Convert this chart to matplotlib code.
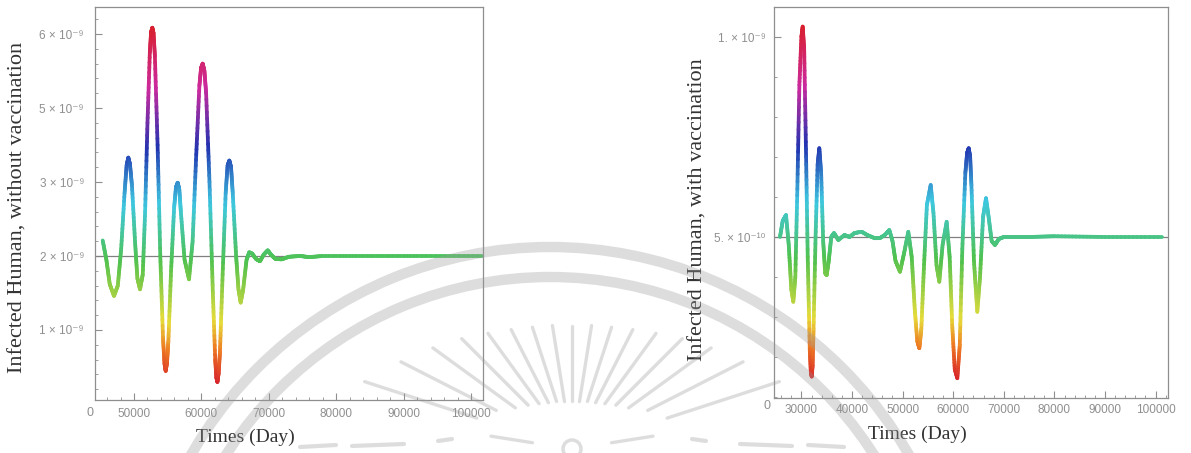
import numpy as np
import matplotlib.pyplot as plt
from matplotlib.collections import LineCollection
from matplotlib.colors import LinearSegmentedColormap
from matplotlib.patches import Arc, Circle
from matplotlib.ticker import FixedLocator, MultipleLocator

# ---------------------------------------------------------------
# data (infected values in units of 1e-9)
# ---------------------------------------------------------------
days_novac = [45356, 45900, 46400, 47033, 47600, 48100, 48600, 48900, 49154, 49400,
              49700, 50150, 50500, 50890, 51300, 51650, 52000, 52350, 52530, 52715,
              52900, 53100, 53500, 53900, 54300, 54520, 54703, 54900, 55100, 55500,
              55950, 56230, 56484, 56720, 56950, 57500, 58160, 58700, 59200, 59700,
              59950, 60193, 60450, 60700, 61200, 61700, 62050, 62220, 62374, 62560,
              62750, 63150, 63600, 63880, 64144, 64400, 64650, 65150, 65500, 65826,
              66200, 66700, 67100, 67552, 68100, 68694, 69250, 69837, 70400, 71000,
              71914, 73000, 74629, 76000, 78000, 85000, 92000, 101700]
infected_novac = [2.21, 1.95, 1.62, 1.46, 1.60, 2.10, 2.85, 3.22, 3.33, 3.24,
                  2.95, 2.20, 1.70, 1.55, 1.75, 2.60, 3.80, 4.75, 5.02, 5.085,
                  5.01, 4.70, 3.50, 2.00, 0.90, 0.55, 0.446, 0.56, 0.85, 1.80,
                  2.65, 2.93, 2.99, 2.90, 2.60, 1.95, 1.685, 2.20, 3.30, 4.30,
                  4.54, 4.60, 4.50, 4.20, 3.00, 1.50, 0.60, 0.36, 0.297, 0.42,
                  0.70, 1.75, 2.85, 3.22, 3.29, 3.20, 2.85, 2.00, 1.55, 1.37,
                  1.55, 1.95, 2.05, 2.03, 1.96, 1.93, 2.02, 2.077, 2.01, 1.96,
                  1.955, 1.99, 2.00, 1.985, 2.00, 2.00, 2.00, 2.00]

days_vac = [25771, 26300, 26957, 27500, 28000, 28400, 28800, 29200, 29600, 30000,
            30257, 30550, 30900, 31250, 31650, 31850, 32036, 32220, 32400, 32800,
            33200, 33537, 33900, 34300, 34700, 35000, 35400, 35900, 36443, 37300,
            38500, 39500, 40500, 41917, 43000, 44500, 45534, 46500, 47371, 48000,
            48600, 49486, 50300, 51126, 51800, 52400, 52900, 53304, 53700, 54200,
            54800, 55553, 56100, 56700, 57256, 57900, 58709, 59300, 59800, 60300,
            60812, 61300, 61800, 62400, 62750, 63063, 63350, 63600, 64100, 64763,
            65300, 65900, 66482, 67000, 67600, 68261, 69000, 70000, 75000, 80000,
            90000, 101200]
infected_vac = [0.50, 0.54, 0.555, 0.48, 0.37, 0.338, 0.40, 0.62, 0.88, 1.00,
                1.026, 0.97, 0.72, 0.45, 0.22, 0.165, 0.151, 0.18, 0.27, 0.50,
                0.68, 0.722, 0.66, 0.49, 0.41, 0.405, 0.44, 0.50, 0.51, 0.4925,
                0.505, 0.50, 0.51, 0.513, 0.505, 0.497, 0.4975, 0.505, 0.5175, 0.49,
                0.44, 0.413, 0.46, 0.513, 0.45, 0.32, 0.24, 0.222, 0.27, 0.42,
                0.58, 0.63, 0.56, 0.43, 0.388, 0.48, 0.538, 0.45, 0.28, 0.17,
                0.147, 0.23, 0.47, 0.66, 0.71, 0.722, 0.70, 0.63, 0.44, 0.313,
                0.40, 0.55, 0.597, 0.55, 0.49, 0.48, 0.495, 0.50, 0.50, 0.502,
                0.50, 0.50]

# tick values and the labels printed in the picture
novac_yticks = [1e-9, 2e-9, 3e-9, 4e-9, 5e-9]
novac_yticklabels = ['1 × 10⁻⁹', '2 × 10⁻⁹', '3 × 10⁻⁹', '5 × 10⁻⁹', '6 × 10⁻⁹']
novac_xticks = [50000, 60000, 70000, 80000, 90000, 100000]
vac_yticks = [5e-10, 1e-9]
vac_yticklabels = ['5. × 10⁻¹⁰', '1. × 10⁻⁹']
vac_xticks = [30000, 40000, 50000, 60000, 70000, 80000, 90000, 100000]

W, H = 1191, 453
GRAY = '#8f8f8f'
SANS = ['Liberation Sans', 'DejaVu Sans']
SERIF = ['Liberation Serif', 'DejaVu Serif']

# softened rainbow: red (low) -> yellow -> green -> cyan -> blue -> magenta -> red (high)
RAINBOW = LinearSegmentedColormap.from_list('soft_rainbow', [
    (0.00, '#d8262b'), (0.09, '#ee7a22'), (0.17, '#e6dc3a'), (0.34, '#4fc24f'),
    (0.50, '#3ec8e0'), (0.66, '#2233b0'), (0.83, '#cc2a9e'), (1.00, '#d8202e')])


def rainbow_line(ax, x, y, lw=2.7, pieces=14):
    # colour a polyline by its height
    x = np.asarray(x, float)
    y = np.asarray(y, float)
    pts = []
    for i in range(len(x) - 1):
        t = np.linspace(0, 1, pieces + 1)[:-1]
        pts.append(np.column_stack([x[i] + (x[i + 1] - x[i]) * t,
                                    y[i] + (y[i + 1] - y[i]) * t]))
    pts.append([[x[-1], y[-1]]])
    pts = np.vstack(pts)
    segs = np.stack([pts[:-1], pts[1:]], axis=1)
    lc = LineCollection(segs, cmap=RAINBOW, norm=plt.Normalize(y.min(), y.max()),
                        linewidths=lw, capstyle='round', joinstyle='round', zorder=3)
    lc.set_array((pts[:-1, 1] + pts[1:, 1]) / 2)
    ax.add_collection(lc)


def style_axes(ax, ylabelpad, xlabelpad):
    for s in ax.spines.values():
        s.set_color(GRAY)
        s.set_linewidth(0.9)
    ax.tick_params(which='both', direction='in', colors=GRAY, top=False, right=False)
    ax.tick_params(which='major', length=5, width=0.8, labelsize=8.5)
    ax.tick_params(axis='y', which='major', pad=ylabelpad)
    ax.tick_params(axis='x', which='major', pad=xlabelpad)
    ax.tick_params(which='minor', length=2.5, width=0.6)
    for lab in ax.get_xticklabels() + ax.get_yticklabels():
        lab.set_family(SANS)
        lab.set_color(GRAY)


fig = plt.figure(figsize=(W / 100, H / 100), dpi=100)
fig.patch.set_facecolor('white')

# ---------------- left panel: without vaccination ----------------
ax1 = fig.add_axes([95 / W, 1 - 400 / H, 388 / W, 393 / H])
ax1.axhline(2e-9, color='#808080', lw=0.9, zorder=2)
rainbow_line(ax1, days_novac, np.array(infected_novac) * 1e-9)
ax1.set_xlim(44214, 101780)
ax1.set_ylim(0.054e-9, 5.365e-9)
ax1.yaxis.set_major_locator(FixedLocator(novac_yticks))
ax1.set_yticklabels(novac_yticklabels)
ax1.yaxis.set_minor_locator(MultipleLocator(0.2e-9))
ax1.xaxis.set_major_locator(FixedLocator(novac_xticks))
ax1.set_xticklabels([str(v) for v in novac_xticks])
ax1.xaxis.set_minor_locator(MultipleLocator(2000))
style_axes(ax1, 8, 6)
ax1.set_ylabel('Infected Human, without vaccination', family=SERIF, fontsize=16,
               color='#333333', va='center')
ax1.yaxis.set_label_coords(-0.198, 0.489)
ax1.set_xlabel('Times (Day)', family=SERIF, fontsize=14, color='#333333', va='center')
ax1.xaxis.set_label_coords(0.387, -0.094)

# ---------------- right panel: with vaccination ----------------
ax2 = fig.add_axes([774 / W, 1 - 398 / H, 394 / W, 391 / H])
ax2.axhline(5e-10, color='#808080', lw=0.9, zorder=2)
rainbow_line(ax2, days_vac, np.array(infected_vac) * 1e-9)
ax2.set_xlim(24585, 102450)
ax2.set_ylim(0.0975e-9, 1.075e-9)
ax2.yaxis.set_major_locator(FixedLocator(vac_yticks))
ax2.set_yticklabels(vac_yticklabels)
ax2.yaxis.set_minor_locator(MultipleLocator(1e-10))
ax2.xaxis.set_major_locator(FixedLocator(vac_xticks))
ax2.set_xticklabels([str(v) for v in vac_xticks])
ax2.xaxis.set_minor_locator(MultipleLocator(2000))
style_axes(ax2, 6, 4)
ax2.set_ylabel('Infected Human, with vaccination', family=SERIF, fontsize=16,
               color='#333333', va='center')
ax2.yaxis.set_label_coords(-0.193, 0.481)
ax2.set_xlabel('Times (Day)', family=SERIF, fontsize=14, color='#333333', va='center')
ax2.xaxis.set_label_coords(0.365, -0.094)

# corner origin labels
fig.text(90 / W, 1 - 413 / H, '0', family=SANS, fontsize=9, color=GRAY, ha='center', va='center')
fig.text(767 / W, 1 - 406 / H, '0', family=SANS, fontsize=9, color=GRAY, ha='center', va='center')

# ---------------- watermark (pixel coordinates) ----------------
wm = fig.add_axes([0, 0, 1, 1], zorder=10)
wm.set_xlim(0, W)
wm.set_ylim(H, 0)
wm.axis('off')
wm.patch.set_alpha(0)
WM = dict(color='#9a9a9a', alpha=0.33)

for r in (414, 384):
    wm.add_patch(Arc((550, 661), 2 * r, 2 * r, lw=7.5, **WM))

cx, cy = 572, 449
wm.add_patch(Circle((cx, cy), 9, fill=False, lw=2.5, **WM))
ray_len = {0: (48, 123), 9: (48, 125), 18: (50, 128), 27: (52, 134), 36: (56, 143),
           45: (62, 156), 54: (70, 172), 63: (85, 192), 72: (100, 218), 81: (40, 82)}
for ang in range(9, 172, 9):
    r0, r1 = ray_len[abs(ang - 90)]
    a = np.radians(ang)
    wm.plot([cx + r0 * np.cos(a), cx + r1 * np.cos(a)],
            [cy - r0 * np.sin(a), cy - r1 * np.sin(a)],
            lw=2.4, solid_capstyle='round', **WM)

# ornament strokes along the bottom edge
for x0, x1, y0, y1 in [(300, 336, 447, 445), (352, 404, 446, 444), (438, 452, 441, 439),
                       (692, 706, 439, 441), (740, 792, 444, 446), (808, 844, 445, 447)]:
    wm.plot([x0, x1], [y0, y1], lw=3.0, solid_capstyle='round', **WM)

fig.savefig('out.png', dpi=100, facecolor='white')
